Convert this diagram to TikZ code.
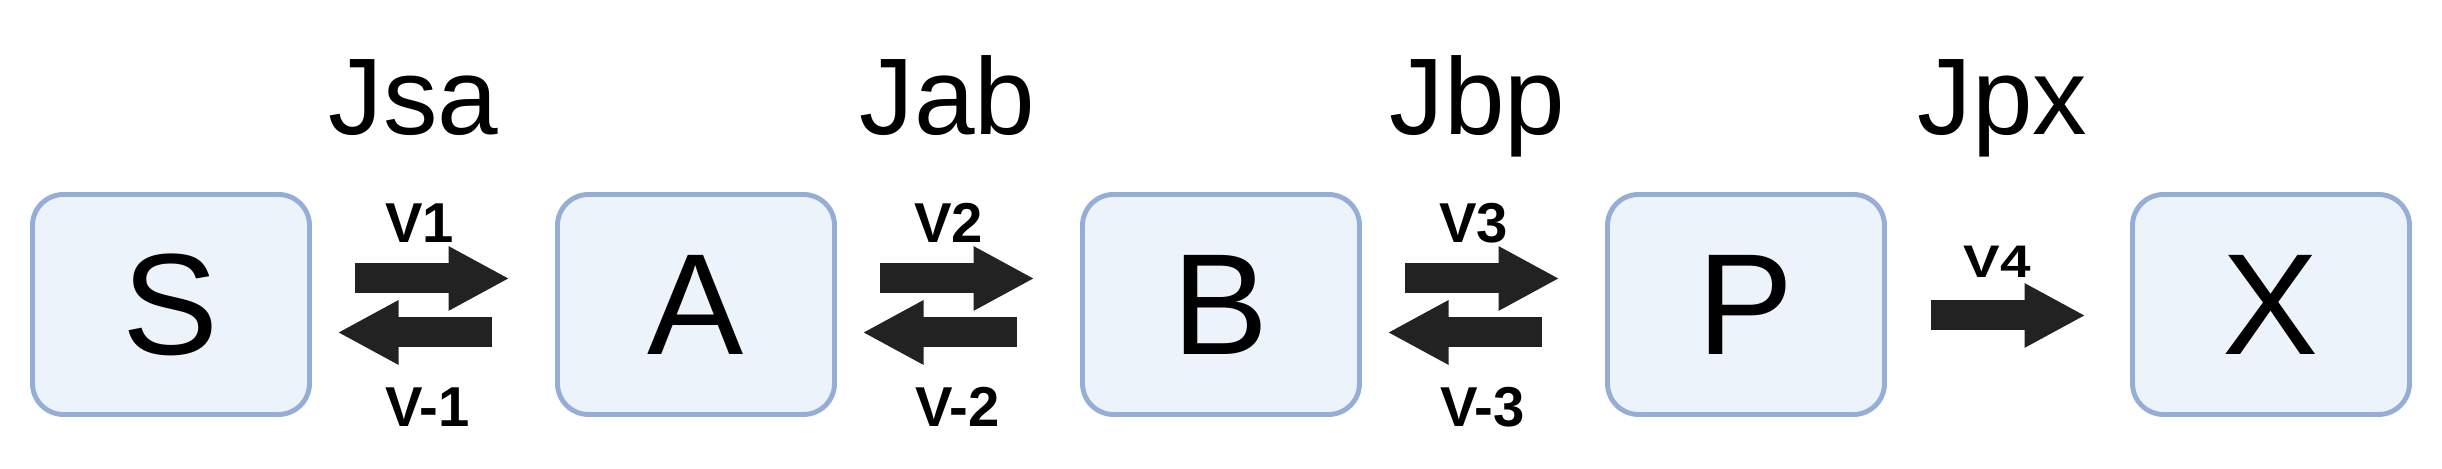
\documentclass[tikz,border=0pt]{standalone}
\usepackage{fontspec}
\setmainfont{Liberation Sans}
\usetikzlibrary{positioning, arrows.meta, calc}

\definecolor{boxedge}{HTML}{94AED6}
\definecolor{boxfill}{HTML}{EDF3FB}
\definecolor{arrowgray}{HTML}{222222}

\tikzset{
    species/.style={draw=boxedge, fill=boxfill, line width=1.4pt, rounded corners=0.31cm,
        minimum width=2.77cm, minimum height=2.2cm, inner sep=0pt, outer sep=0pt,
        font=\fontsize{41}{41}\selectfont},
    reaction/.style={-{Triangle[length=0.61cm, width=0.6cm]}, line width=0.3cm, color=arrowgray},
    rate/.style={anchor=base, font=\fontsize{16}{16}\selectfont\bfseries},
    flux/.style={anchor=base, font=\fontsize{31}{31}\selectfont},
}

\begin{document}
\begin{tikzpicture}
            \useasboundingbox (0,0) rectangle (24.42,4.69);
            
            % species boxes
            \node[species] (S) at (1.71, 1.645) {S};
            \node[species, right=2.48cm of S] (A) {A};
            \node[species, right=2.48cm of A] (B) {B};
            \node[species, right=2.48cm of B] (P) {P};
            \node[species, right=2.48cm of P] (X) {X};
            
            \coordinate (sa) at ($(S.east)!0.5!(A.west)$);
            \coordinate (ab) at ($(A.east)!0.5!(B.west)$);
            \coordinate (bp) at ($(B.east)!0.5!(P.west)$);
            \coordinate (px) at ($(P.east)!0.5!(X.west)$);
            
            % reversible steps
            \draw[reaction, shorten <=0.45cm, shorten >=0.48cm] ([yshift=0.26cm]S.east) -- ([yshift=0.26cm]A.west);
            \draw[reaction, shorten <=0.66cm, shorten >=0.28cm] ([yshift=-0.28cm]A.west) -- ([yshift=-0.28cm]S.east);
            \draw[reaction, shorten <=0.45cm, shorten >=0.48cm] ([yshift=0.26cm]A.east) -- ([yshift=0.26cm]B.west);
            \draw[reaction, shorten <=0.66cm, shorten >=0.28cm] ([yshift=-0.28cm]B.west) -- ([yshift=-0.28cm]A.east);
            \draw[reaction, shorten <=0.45cm, shorten >=0.48cm] ([yshift=0.26cm]B.east) -- ([yshift=0.26cm]P.west);
            \draw[reaction, shorten <=0.66cm, shorten >=0.28cm] ([yshift=-0.28cm]P.west) -- ([yshift=-0.28cm]B.east);
            
            % irreversible last step
            \draw[reaction, shorten <=0.46cm, shorten >=0.47cm] ([yshift=-0.11cm]P.east) -- ([yshift=-0.11cm]X.west);
            
            % rates
            \node[rate] (v1) at ($(sa)+(-0.14,0.615)$) {V1};
            \node[rate] (vm1) at ($(sa)+(-0.06,-1.225)$) {V-1};
            \node[rate] (v2) at ($(ab)+(-0.1,0.615)$) {V2};
            \node[rate] (vm2) at ($(ab)+(-0.01,-1.225)$) {V-2};
            \node[rate] (v3) at ($(bp)+(-0.1,0.615)$) {V3};
            \node[rate] (vm3) at ($(bp)+(-0.01,-1.225)$) {V-3};
            \node[rate, font=\fontsize{13}{13}\selectfont\bfseries, xscale=1.2] (v4) at ($(px)+(-0.11,0.265)$) {V4};
            
            % fluxes
            \node[flux] (jsa) at ($(sa)+(-0.2,1.695)$) {Jsa};
            \node[flux] (jab) at ($(ab)+(-0.11,1.695)$) {Jab};
            \node[flux] (jbp) at ($(bp)+(-0.06,1.695)$) {Jbp};
            \node[flux] (jpx) at ($(px)+(-0.06,1.695)$) {Jpx};
            
        \end{tikzpicture}
\end{document}
